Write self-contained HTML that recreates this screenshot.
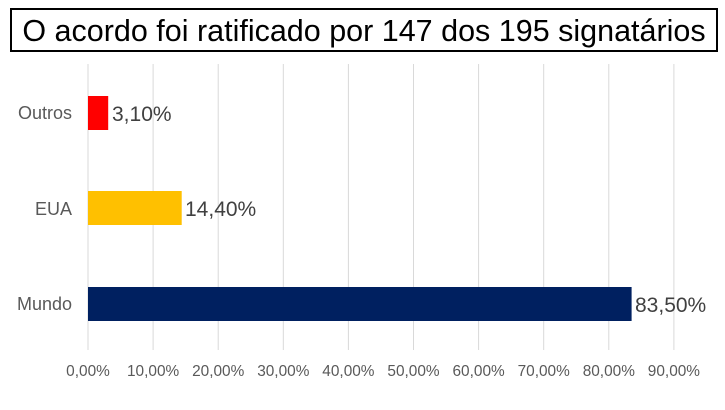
<!DOCTYPE html>
<html><head><meta charset="utf-8"><style>
body{margin:0;width:725px;height:405px;background:#fff;overflow:hidden;font-family:"Liberation Sans",Arial,sans-serif;}
</style></head><body>
<svg width="725" height="405" xmlns="http://www.w3.org/2000/svg" font-family="Liberation Sans, Arial, sans-serif">
<rect x="11" y="9" width="706" height="42" fill="#fff" stroke="#000" stroke-width="2"/>
<text x="364" y="41" font-size="30.5" text-anchor="middle" fill="#000">O acordo foi ratificado por 147 dos 195 signatários</text>
<g stroke="#d9d9d9" stroke-width="1">
<line x1="88" y1="64" x2="88" y2="350"/><line x1="153.1" y1="64" x2="153.1" y2="350"/><line x1="218.2" y1="64" x2="218.2" y2="350"/><line x1="283.3" y1="64" x2="283.3" y2="350"/><line x1="348.4" y1="64" x2="348.4" y2="350"/><line x1="413.5" y1="64" x2="413.5" y2="350"/><line x1="478.6" y1="64" x2="478.6" y2="350"/><line x1="543.7" y1="64" x2="543.7" y2="350"/><line x1="608.8" y1="64" x2="608.8" y2="350"/><line x1="673.9" y1="64" x2="673.9" y2="350"/>
</g>
<rect x="88" y="96" width="20.2" height="34" fill="#ff0000"/>
<rect x="88" y="191" width="93.7" height="34" fill="#ffc000"/>
<rect x="88" y="287" width="543.6" height="34" fill="#002060"/>
<g font-size="21" fill="#404040">
<text x="112" y="121">3,10%</text><text x="185" y="216">14,40%</text><text x="635" y="312">83,50%</text>
</g>
<g font-size="18" fill="#595959" text-anchor="end">
<text x="72" y="119">Outros</text><text x="72" y="215">EUA</text><text x="72" y="310">Mundo</text>
</g>
<g font-size="15.4" fill="#595959" text-anchor="middle">
<text x="88" y="376">0,00%</text><text x="153.1" y="376">10,00%</text><text x="218.2" y="376">20,00%</text><text x="283.3" y="376">30,00%</text><text x="348.4" y="376">40,00%</text><text x="413.5" y="376">50,00%</text><text x="478.6" y="376">60,00%</text><text x="543.7" y="376">70,00%</text><text x="608.8" y="376">80,00%</text><text x="673.9" y="376">90,00%</text>
</g>
</svg>
</body></html>
